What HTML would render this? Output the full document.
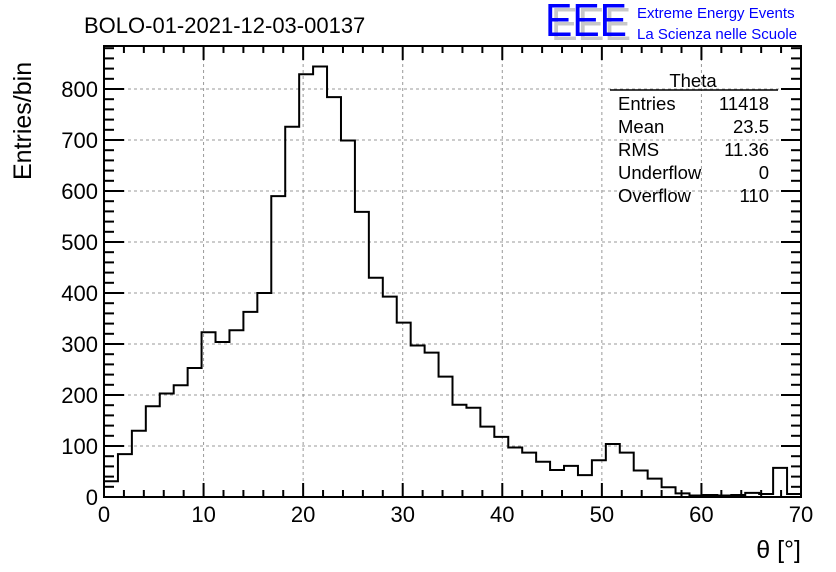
<!DOCTYPE html>
<html><head><meta charset="utf-8"><style>
html,body{margin:0;padding:0;background:#fff;}
svg{display:block;font-family:"Liberation Sans",sans-serif;}
</style></head><body>
<svg id="c" width="836" height="572" viewBox="0 0 836 572">
<text x="84" y="33" font-size="22">BOLO-01-2021-12-03-00137</text>
<g>
<text x="551" y="40" font-size="46" fill="#c8c8c8" textLength="80" lengthAdjust="spacingAndGlyphs">EEE</text>
<text x="545" y="36" font-size="46" fill="#0000ff" textLength="82" lengthAdjust="spacingAndGlyphs">EEE</text>
<text x="637" y="18" font-size="15" fill="#0000ff">Extreme Energy Events</text>
<text x="637" y="39" font-size="15" fill="#0000ff">La Scienza nelle Scuole</text>
</g>
<g id="grid"></g>
<g id="axes"></g>
<path id="hist" fill="none" stroke="#000" stroke-width="2"/>
<g font-size="18.5">
<text x="693" y="87" text-anchor="middle">Theta</text>
<line x1="610" y1="90" x2="778" y2="90" stroke="#000" stroke-width="1.5"/>
<text x="618" y="110">Entries</text><text x="769" y="110" text-anchor="end">11418</text>
<text x="618" y="133">Mean</text><text x="769" y="133" text-anchor="end">23.5</text>
<text x="618" y="156">RMS</text><text x="769" y="156" text-anchor="end">11.36</text>
<text x="618" y="179">Underflow</text><text x="769" y="179" text-anchor="end">0</text>
<text x="618" y="202">Overflow</text><text x="769" y="202" text-anchor="end">110</text>
</g>
<text x="801" y="558" font-size="25" text-anchor="end">θ [°]</text>
<text transform="translate(31,180) rotate(-90)" font-size="25">Entries/bin</text>
</svg>
<script>
const counts=[31,84,130,178,203,219,253,323,304,327,363,400,590,726,829,844,784,699,559,430,393,342,297,283,236,181,175,138,118,97,87,69,53,61,43,72,104,87,52,36,19,7,3,4,3,4,8,6,57,6];
const binWidth=1.4;
const xTicks=[0,10,20,30,40,50,60,70];
const yTicks=[0,100,200,300,400,500,600,700,800];
const L=104,R=801,T=46,B=497,xMax=70,yPerPx=0.51;
const X=v=>L+(R-L)*v/xMax;
const Y=v=>B-v*yPerPx;
const NS="http://www.w3.org/2000/svg";
function mk(tag,attrs,parent){const e=document.createElementNS(NS,tag);for(const k in attrs)e.setAttribute(k,attrs[k]);parent.appendChild(e);return e;}
const grid=document.getElementById('grid'),axes=document.getElementById('axes');
xTicks.forEach(t=>{if(t>0&&t<xMax){const l=mk('line',{x1:X(t),x2:X(t),y1:T,y2:B,stroke:'#999','stroke-dasharray':'3,3'},grid);

}});
yTicks.forEach(t=>{if(t>0){const l=mk('line',{x1:L,x2:R,y1:Y(t),y2:Y(t),stroke:'#999','stroke-dasharray':'3,3'},grid);

}});
mk('rect',{x:L,y:T,width:R-L,height:B-T,fill:'none',stroke:'#000','stroke-width':2},axes);
for(let v=0;v<=xMax;v+=2){const maj=v%10===0;const h=maj?14:7;
mk('line',{x1:X(v),x2:X(v),y1:B,y2:B-h,stroke:'#000','stroke-width':2},axes);
mk('line',{x1:X(v),x2:X(v),y1:T,y2:T+h,stroke:'#000','stroke-width':2},axes);}
const yTop=(B-T)/yPerPx;
for(let v=0;v<=yTop;v+=20){const maj=v%100===0;const w=maj?20:10;
mk('line',{x1:L,x2:L+w,y1:Y(v),y2:Y(v),stroke:'#000','stroke-width':2},axes);
mk('line',{x1:R,x2:R-w,y1:Y(v),y2:Y(v),stroke:'#000','stroke-width':2},axes);}
xTicks.forEach(t=>{const e=mk('text',{x:X(t),y:522,'font-size':22,'text-anchor':'middle'},axes);e.textContent=t;

});
yTicks.forEach(t=>{const e=mk('text',{x:98,y:Y(t)+8,'font-size':22,'text-anchor':'end'},axes);e.textContent=t;

});
let d='M'+X(0)+','+Y(0);
counts.forEach((c,i)=>{d+=' L'+X(i*binWidth)+','+Y(c)+' L'+X((i+1)*binWidth)+','+Y(c);});
document.getElementById('hist').setAttribute('d',d);
</script>
</body></html>
